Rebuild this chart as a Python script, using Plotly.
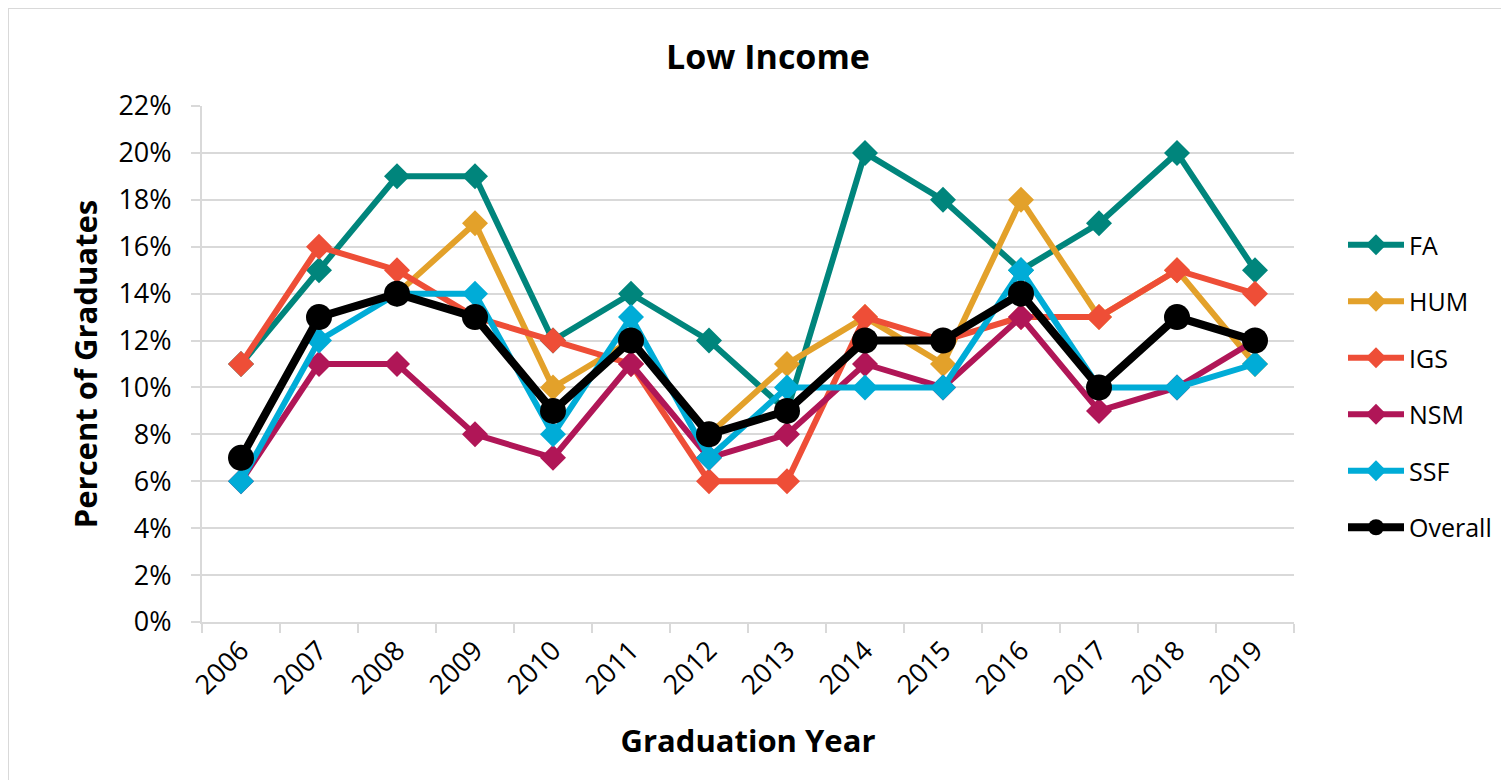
import plotly.graph_objects as go

years = ["2006", "2007", "2008", "2009", "2010", "2011", "2012", "2013", "2014", "2015", "2016", "2017", "2018", "2019"]
fa = [11, 15, 19, 19, 12, 14, 12, 9, 20, 18, 15, 17, 20, 15]
hum = [7, 13, 14, 17, 10, 12, 8, 11, 13, 11, 18, 13, 15, 11]
igs = [11, 16, 15, 13, 12, 11, 6, 6, 13, 12, 13, 13, 15, 14]
nsm = [6, 11, 11, 8, 7, 11, 7, 8, 11, 10, 13, 9, 10, 12]
ssf = [6, 12, 14, 14, 8, 13, 7, 10, 10, 10, 15, 10, 10, 11]
overall = [7, 13, 14, 13, 9, 12, 8, 9, 12, 12, 14, 10, 13, 12]

series = [
    ("FA", fa, "#00857C"),
    ("HUM", hum, "#E3A12A"),
    ("IGS", igs, "#EE4E37"),
    ("NSM", nsm, "#B01657"),
    ("SSF", ssf, "#00ACD7"),
]

font = "Open Sans"
fig = go.Figure()
for name, vals, col in series:
    fig.add_trace(go.Scatter(
        x=years, y=[v / 100 for v in vals], name=name, mode="lines+markers",
        line=dict(color=col, width=6), marker=dict(symbol="diamond", size=20, color=col),
        legendgroup=name,
    ))
fig.add_trace(go.Scatter(
    x=years, y=[v / 100 for v in overall], name="Overall", mode="lines+markers",
    line=dict(color="black", width=8), marker=dict(symbol="circle", size=26, color="black"),
    legendgroup="Overall",
))

OFF = 8  # page body offset
W, H = 1509 - OFF, 780 - OFF
PL, PR, PT, PB = 202, 1294, 106, 622  # plot area in page pixels
L = PL - OFF
R = OFF + W - PR
T = PT - OFF
B = OFF + H - PB
pw, ph = PR - PL, PB - PT

def px(x):
    return (x - PL) / pw

def py(y):
    return (PB - y) / ph

fig.update_layout(
    width=W, height=H,
    margin=dict(l=L, r=R, t=T, b=B, autoexpand=False),
    paper_bgcolor="white", plot_bgcolor="white",
    font=dict(family=font, size=26, color="black"),
    title=dict(text="<b>Low Income</b>", x=px(768), xref="paper", xanchor="center",
               y=1 - (57 - OFF) / H, yanchor="middle", font=dict(size=34, family=font)),
    showlegend=True,
    legend=dict(x=px(1343), xanchor="left", y=py(222), yanchor="top",
                font=dict(size=25, family=font), tracegroupgap=21,
                bgcolor="rgba(0,0,0,0)", itemwidth=56),
    xaxis=dict(
        type="category", tickangle=-45, tickson="boundaries",
        range=[-0.5, len(years) - 0.5],
        ticks="outside", ticklen=9, tickcolor="#d9d9d9", tickwidth=2,
        showline=True, linecolor="#d9d9d9", linewidth=2,
        showgrid=False, zeroline=False,
        title=dict(text="<b>Graduation Year</b>", font=dict(size=31, family=font), standoff=30),
        tickfont=dict(size=27),
    ),
    yaxis=dict(
        range=[0, 0.22], dtick=0.02, tickformat=".0%",
        ticks="outside", ticklen=9, tickcolor="#d9d9d9", tickwidth=2,
        showline=True, linecolor="#d9d9d9", linewidth=2,
        showgrid=True, gridcolor="#d9d9d9", gridwidth=2, zeroline=False,
        ticklabelstandoff=14,
        title=dict(text="<b>Percent of Graduates</b>", font=dict(size=31, family=font), standoff=12),
        tickfont=dict(size=27),
    ),
    shapes=[dict(type="rect", xref="paper", yref="paper",
                 x0=px(8), x1=px(1530), y0=py(800), y1=py(8),
                 line=dict(color="#d9d9d9", width=2), fillcolor="rgba(0,0,0,0)", layer="below")],
)

fig.write_html("out.html")
